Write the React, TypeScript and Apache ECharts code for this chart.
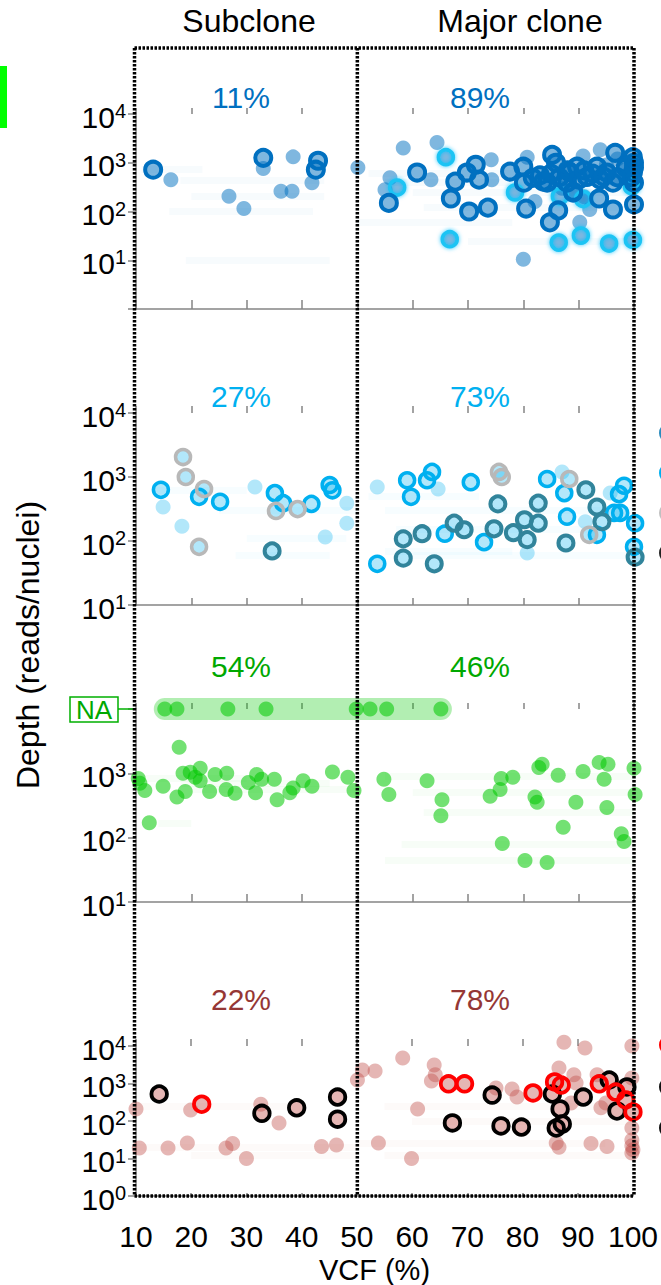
import React, { useEffect, useRef } from "react";
import * as echarts from "echarts";

const FONT = "'Liberation Sans', Arial, Helvetica, sans-serif";
const AXIS_GREY = "#858585";

// ---- Data: [VCF (%), depth (reads/nuclei), marker kind] ----

// Panel 1 — kind 0 plain, 1 dark-blue ring, 2 cyan ring
const panel1Points: [number, number, number][] = [
  [13.1, 720, 1], [16.3, 450, 0], [26.8, 205, 0], [29.5, 115, 0], [33, 1260, 1], [33, 760, 0],
  [38.4, 1320, 0], [36.2, 260, 0], [38.2, 260, 0], [42.9, 1100, 1], [42.5, 720, 1], [41.8, 390, 0],
  [50.1, 800, 0], [58.3, 2000, 0], [64.4, 2600, 0], [66, 1300, 2], [55.9, 490, 0], [55, 280, 0],
  [57.2, 310, 2], [55.7, 150, 1], [60.8, 630, 1], [63.3, 450, 0], [67.7, 410, 1], [66.9, 185, 1],
  [69.8, 630, 1], [71.4, 910, 1], [72, 450, 1], [74.2, 1150, 0], [74.3, 450, 0], [70.2, 100, 1],
  [73.6, 120, 1], [66.7, 27, 2], [77.6, 660, 1], [80, 830, 1], [80.7, 1300, 0], [80.1, 390, 1],
  [78.5, 245, 2], [80.5, 115, 1], [80, 10.5, 0], [82.1, 160, 0], [85.2, 1450, 1], [85.9, 1000, 1],
  [83.6, 410, 1], [86.3, 105, 1], [84.8, 60, 1], [86.4, 23, 2], [90.2, 60, 0], [90.4, 32, 2],
  [95.5, 22, 2], [99.8, 26, 2], [96.6, 1600, 1], [100, 1000, 1], [100, 140, 1], [96.2, 110, 1],
  [93.7, 185, 1], [89, 245, 1], [92, 110, 0], [93.9, 1850, 0], [90.8, 1380, 0], [81.7, 490, 1],
  [84.3, 390, 1], [88.4, 630, 1], [89.7, 830, 1], [87.9, 390, 1], [89, 255, 1], [91.5, 510, 1],
  [93.3, 830, 1], [93.9, 450, 1], [95.1, 630, 1], [96.2, 390, 1], [99.8, 630, 1], [100, 390, 1],
  [86.6, 205, 2], [90.8, 180, 2], [99.6, 330, 2], [86.5, 500, 1], [88, 700, 1], [90, 450, 1],
  [91, 700, 1], [92.5, 600, 1], [94.5, 520, 1], [97, 500, 1], [98.5, 800, 1], [99.5, 500, 1],
  [85, 600, 1], [83, 550, 1], [100, 800, 1], [99.8, 1300, 1], [98, 700, 0], [97, 1200, 0],
  [95, 900, 0], [87, 300, 0], [91, 200, 0],
];

// Panel 2 — kind 0 plain, 1 cyan ring, 2 teal ring, 3 grey ring
const panel2Points: [number, number, number][] = [
  [14.5, 630, 1], [14.9, 340, 0], [18.5, 2050, 3], [19, 1000, 3], [21.4, 490, 1], [22.3, 650, 3],
  [25.2, 410, 1], [18.3, 170, 0], [21.4, 81, 3], [31.5, 700, 0], [35.1, 560, 1], [36.6, 390, 1],
  [35.3, 295, 3], [39.2, 315, 3], [41.7, 380, 1], [34.6, 70, 2], [45, 750, 1], [45.5, 620, 1],
  [44.2, 115, 0], [48.1, 390, 0], [48.1, 190, 0], [53.6, 700, 0], [53.6, 44, 1], [58.3, 108, 2],
  [58.3, 54, 2], [61.7, 130, 2], [63.9, 44, 2], [59, 890, 1], [59.7, 490, 1], [62.6, 890, 1],
  [63.5, 1200, 1], [64.6, 650, 0], [65.8, 130, 1], [67.5, 190, 2], [69.3, 150, 2], [70.5, 830, 1],
  [72.9, 96, 1], [74.7, 155, 2], [75.4, 380, 2], [75.6, 1200, 3], [76.1, 1000, 3], [78.2, 135, 2],
  [80.2, 215, 2], [80.7, 105, 2], [80.7, 65, 0], [82.7, 390, 2], [82.7, 190, 2], [84.3, 930, 1],
  [87, 1200, 0], [87.4, 560, 1], [88.3, 930, 3], [87.9, 240, 1], [87.7, 93, 2], [91.3, 630, 2],
  [93.3, 340, 2], [94.2, 200, 2], [91.9, 125, 3], [93.3, 125, 1], [91.2, 200, 0], [96.4, 275, 1],
  [97.5, 275, 1], [97.3, 540, 1], [98.2, 730, 1], [95.7, 560, 0], [100.2, 190, 1], [100, 81, 1],
  [100.2, 56, 2],
];

// Panel 3 — depth known
const panel3Points: [number, number][] = [
  [10.4, 830], [10.7, 700], [11.6, 540], [12.4, 170], [14.9, 630], [17.4, 430], [17.8, 2550],
  [18.5, 1000], [18.9, 520], [19.8, 1040], [20.7, 870], [21.6, 1200], [21.6, 770], [23.3, 520],
  [24.3, 960], [26.4, 1000], [26.3, 560], [27.9, 490], [30.3, 720], [31.8, 960], [31.6, 500],
  [32.7, 810], [35, 810], [35.5, 390], [37.8, 500], [38.4, 590], [40.2, 770], [41.8, 630],
  [45.5, 1050], [48.3, 870], [49.4, 540], [54.8, 810], [55.7, 470], [62.6, 770], [65.3, 390],
  [65.1, 220], [74, 440], [75.8, 560], [76, 830], [76.2, 81], [78.1, 870], [80.3, 44], [82.1, 430],
  [82.5, 355], [82.8, 1230], [83.4, 1380], [84.3, 41], [86.3, 930], [87.2, 145], [89.5, 355],
  [90.8, 1070], [93.7, 1480], [95.3, 1380], [94.6, 810], [95.1, 295], [97.7, 115], [98.2, 87],
  [100, 1200], [100.2, 470],
];
// Panel 3 — depth not available (VCF only)
const panel3NA: number[] = [15.2, 17.4, 26.6, 33.5, 49.8, 52.3, 55.3, 65.1];
const NA_LEVEL = 10000;

// Panel 4 — kind 0 plain, 1 red ring, 2 black ring
const panel4Points: [number, number, number][] = [
  [14.2, 525, 2], [10, 210, 0], [10.6, 19, 0], [15.8, 19, 0], [19.3, 26, 0], [19.9, 195, 0],
  [21.9, 280, 1], [26.3, 19, 0], [27.5, 25, 0], [30, 10, 0], [32.6, 280, 0], [32.8, 160, 2],
  [35.9, 89, 0], [39.1, 225, 2], [43.6, 21, 0], [46.5, 435, 2], [46.5, 112, 2], [46.3, 23, 0],
  [50.1, 1240, 0], [51, 2300, 0], [53.3, 2150, 0], [53.9, 26, 0], [58.3, 4800, 0], [61, 210, 0],
  [59.9, 10, 0], [64, 3100, 0], [64.2, 1700, 0], [63.5, 1170, 0], [66.6, 980, 1], [69.5, 980, 1],
  [67.3, 89, 2], [74.5, 490, 2], [75.2, 760, 0], [76.1, 74, 2], [79.8, 69, 2], [78.1, 710, 0],
  [79, 435, 0], [81.9, 560, 1], [85.4, 525, 2], [85.8, 1100, 1], [87, 910, 1], [87.5, 12600, 0],
  [91.3, 8800, 0], [99.8, 10000, 0], [86.8, 210, 2], [86.1, 65, 2], [87.2, 83, 2], [86.6, 2600, 0],
  [89.3, 1700, 0], [89.7, 1030, 0], [88.8, 300, 0], [91, 435, 2], [86.1, 26, 0], [86.6, 20, 0],
  [92.4, 25, 0], [95.3, 21, 0], [93.9, 980, 1], [95.7, 1240, 2], [96.9, 590, 1], [98.9, 810, 2],
  [98.7, 365, 1], [97.1, 185, 2], [100, 175, 1], [93.5, 1700, 0], [94.2, 225, 0], [95.1, 300, 0],
  [99.8, 1400, 0], [99.8, 65, 0], [99.8, 31, 0], [100, 17, 0], [99.8, 14, 0], [99.8, 22, 0],
];

// Faint VCF confidence ranges: [low, high, depth]
const panel1Ranges: [number, number, number][] = [
  [11, 22, 720], [18, 44, 430], [20, 44, 205], [16, 42, 100], [19, 45, 10], [52, 100, 600],
  [55, 100, 400], [60, 100, 250], [62, 100, 120], [70, 100, 25], [50, 78, 60],
];
const panel2Ranges: [number, number, number][] = [
  [13, 30, 620], [25, 50, 300], [30, 48, 110], [28, 45, 60], [52, 72, 500], [55, 100, 300],
  [57, 95, 150], [55, 78, 70], [60, 100, 60],
];
const panel3Ranges: [number, number, number][] = [
  [10, 30, 830], [18, 45, 700], [14, 20, 170], [20, 50, 560], [55, 100, 900], [60, 100, 500],
  [62, 100, 250], [58, 100, 80], [55, 100, 45],
];
const panel4Ranges: [number, number, number][] = [
  [10, 40, 250], [10, 50, 20], [20, 50, 12], [55, 100, 250], [60, 100, 100], [50, 95, 25],
  [55, 100, 12],
];

const columnTitles = ["Subclone", "Major clone"];
const panelPercents: [string, string][] = [
  ["11%", "89%"],
  ["27%", "73%"],
  ["54%", "46%"],
  ["22%", "78%"],
];

// ---- Layout ----
const GRID_LEFT = 136;
const GRID_W = 498;
const X_MIN = 10;
const X_MAX = 100;
const BOX_TOP = 48;
const BOX_BOTTOM = 1196;

const PANELS = [
  { top: 114, height: 195, yMin: 1, pctY: 97, inner: 9, outer: 6 },
  { top: 413, height: 192, yMin: 10, pctY: 396, inner: 7, outer: 7 },
  { top: 709, height: 193, yMin: 10, pctY: 666, inner: 8, outer: 6 },
  { top: 1046, height: 150, yMin: 1, pctY: 999, inner: 3, outer: 7 },
];
const PERCENT_COLORS = ["#0070c0", "#00b0f0", "#00a800", "#953735"];

const xPix = (v: number) => GRID_LEFT + ((v - X_MIN) / (X_MAX - X_MIN)) * GRID_W;

function supLabel(hideMin: number | null, hideMax: boolean) {
  return (v: number) => {
    if (hideMin !== null && v <= hideMin) return "";
    if (hideMax && v >= 10000) return "";
    const e = Math.round(Math.log10(v));
    return `{b|10}{s|${e}}`;
  };
}

const richSup = {
  b: { fontSize: 30, fontFamily: FONT, color: "#000", lineHeight: 32 },
  s: { fontSize: 20, fontFamily: FONT, color: "#000", verticalAlign: "top", lineHeight: 21 },
};

function scatterFilled(i: number, data: number[][], color: string, opacity: number) {
  return {
    type: "scatter",
    xAxisIndex: 2 * i,
    yAxisIndex: i,
    data,
    symbol: "circle",
    symbolSize: 15,
    clip: false,
    silent: true,
    z: 3,
    itemStyle: { color, opacity },
  };
}

function scatterRing(i: number, data: number[][], color: string, size: number, width: number, extra: any = {}) {
  return {
    type: "scatter",
    xAxisIndex: 2 * i,
    yAxisIndex: i,
    data,
    symbol: "circle",
    symbolSize: size,
    clip: false,
    silent: true,
    z: 4,
    itemStyle: { color: "rgba(0,0,0,0)", borderColor: color, borderWidth: width, opacity: 1, ...extra },
  };
}

function rangeBars(i: number, ranges: [number, number, number][], color: string) {
  return {
    type: "lines",
    coordinateSystem: "cartesian2d",
    xAxisIndex: 2 * i,
    yAxisIndex: i,
    silent: true,
    z: 1,
    data: ranges.map(([lo, hi, d]) => ({ coords: [[lo, d], [hi, d]] })),
    lineStyle: { color, width: 7, opacity: 0.03, curveness: 0 },
  };
}

const pick = (pts: [number, number, number][], k: number) =>
  pts.filter((p) => p[2] === k).map((p) => [p[0], p[1]]);
const all = (pts: [number, number, number][]) => pts.map((p) => [p[0], p[1]]);

function buildOption() {
  const grid = PANELS.map((p) => ({ left: GRID_LEFT, width: GRID_W, top: p.top, height: p.height }));

  const xAxis: any[] = [];
  PANELS.forEach((p, i) => {
    const last = i === PANELS.length - 1;
    xAxis.push({
      type: "value",
      gridIndex: i,
      min: X_MIN,
      max: X_MAX,
      interval: 10,
      axisLine: { show: true, onZero: false, lineStyle: { color: AXIS_GREY, width: 1.5 } },
      axisTick: { show: true, inside: true, length: p.inner, lineStyle: { color: AXIS_GREY, width: 1.5 } },
      axisLabel: { show: last, margin: 25, fontSize: 30, fontFamily: FONT, color: "#000" },
      splitLine: { show: false },
      name: last ? "VCF (%)" : "",
      nameLocation: "middle",
      nameGap: 59,
      nameTextStyle: { fontSize: 29, fontFamily: FONT, color: "#000", padding: [0, 20, 0, 0] },
    });
    xAxis.push({
      type: "value",
      gridIndex: i,
      min: X_MIN,
      max: X_MAX,
      interval: 10,
      axisLine: { show: false },
      axisTick: { show: true, inside: false, length: p.outer, lineStyle: { color: AXIS_GREY, width: 1.5 } },
      axisLabel: { show: false },
      splitLine: { show: false },
    });
  });

  const yAxis = PANELS.map((p, i) => ({
    type: "log",
    logBase: 10,
    gridIndex: i,
    min: p.yMin,
    max: 10000,
    axisLine: { show: true, onZero: false, lineStyle: { color: AXIS_GREY, width: 1.5 } },
    axisTick: { show: true, length: 8, lineStyle: { color: AXIS_GREY, width: 1.5 } },
    minorTick: { show: false },
    splitLine: { show: false },
    axisLabel: {
      margin: 10,
      padding: [6, 0, 0, 0],
      formatter: supLabel(i === 0 ? 1 : null, i === 2),
      rich: richSup,
    },
  }));

  const naMin = Math.min(...panel3NA);
  const naMax = Math.max(...panel3NA);

  const series: any[] = [
    // Panel 1
    rangeBars(0, panel1Ranges, "#0070c0"),
    scatterFilled(0, all(panel1Points), "#0070c0", 0.5),
    scatterRing(0, pick(panel1Points, 2), "#1cc4f4", 15, 3.5, { shadowBlur: 4, shadowColor: "rgba(0,190,255,0.8)" }),
    scatterRing(0, pick(panel1Points, 1), "#0070c0", 16, 4),
    // Panel 2
    rangeBars(1, panel2Ranges, "#00b0f0"),
    scatterFilled(1, all(panel2Points), "#00b0f0", 0.3),
    scatterRing(1, pick(panel2Points, 1), "#00b0f0", 15, 3.5),
    scatterRing(1, pick(panel2Points, 2), "#31849b", 15, 4),
    scatterRing(1, pick(panel2Points, 3), "#b8b8b8", 15, 3.5),
    // Panel 3
    rangeBars(2, panel3Ranges, "#00c000"),
    {
      type: "line",
      xAxisIndex: 4,
      yAxisIndex: 2,
      data: [
        [naMin, NA_LEVEL],
        [naMax, NA_LEVEL],
      ],
      symbol: "none",
      clip: false,
      silent: true,
      z: 2,
      lineStyle: { color: "rgba(0,200,0,0.3)", width: 22, cap: "round" },
    },
    scatterFilled(2, panel3Points, "#00c800", 0.55),
    scatterFilled(2, panel3NA.map((v) => [v, NA_LEVEL]), "#00c800", 0.55),
    // Panel 4
    rangeBars(3, panel4Ranges, "#c0504d"),
    scatterFilled(3, all(panel4Points), "#c0504d", 0.42),
    scatterRing(3, pick(panel4Points, 2), "#000000", 15.5, 3.8),
    scatterRing(3, pick(panel4Points, 1), "#ff0000", 15.5, 3.8),
  ];

  const dotted = { stroke: "#000", lineWidth: 3.5, lineDash: [2.5, 1.5] };
  const graphic: any[] = [
    { type: "rect", z: 50, shape: { x: 0, y: 66, width: 7, height: 62 }, style: { fill: "#00ff00" } },
    // column titles
    {
      type: "text", z: 50, x: 249, y: 21,
      style: { text: columnTitles[0], fontSize: 32, fontFamily: FONT, fill: "#000", align: "center", verticalAlign: "middle" },
    },
    {
      type: "text", z: 50, x: 520, y: 21,
      style: { text: columnTitles[1], fontSize: 32, fontFamily: FONT, fill: "#000", align: "center", verticalAlign: "middle" },
    },
    // y axis title
    {
      type: "text", z: 50, x: 28, y: 645, rotation: Math.PI / 2,
      style: { text: "Depth (reads/nuclei)", fontSize: 32, fontFamily: FONT, fill: "#000", align: "center", verticalAlign: "middle" },
    },
    // dotted clone boxes
    { type: "line", z: 60, shape: { x1: xPix(X_MIN) - 1.5, y1: BOX_TOP, x2: xPix(X_MAX), y2: BOX_TOP }, style: dotted },
    { type: "line", z: 60, shape: { x1: xPix(X_MIN) - 1.5, y1: BOX_BOTTOM, x2: xPix(X_MAX), y2: BOX_BOTTOM }, style: dotted },
    { type: "line", z: 60, shape: { x1: xPix(X_MIN) - 1.5, y1: BOX_TOP, x2: xPix(X_MIN) - 1.5, y2: BOX_BOTTOM }, style: dotted },
    { type: "line", z: 60, shape: { x1: xPix(50), y1: BOX_TOP, x2: xPix(50), y2: BOX_BOTTOM }, style: dotted },
    { type: "line", z: 60, shape: { x1: xPix(X_MAX), y1: BOX_TOP, x2: xPix(X_MAX), y2: BOX_BOTTOM }, style: dotted },
    // NA label for panel 3
    { type: "line", z: 55, shape: { x1: 118, y1: PANELS[2].top, x2: GRID_LEFT, y2: PANELS[2].top }, style: { stroke: "#00b000", lineWidth: 1.5 } },
    { type: "rect", z: 55, shape: { x: 70, y: PANELS[2].top - 12, width: 48, height: 25 }, style: { fill: "#fff", stroke: "#00b000", lineWidth: 1.5 } },
    {
      type: "text", z: 56, x: 94, y: PANELS[2].top + 1,
      style: { text: "NA", fontSize: 26, fontFamily: FONT, fill: "#00a800", align: "center", verticalAlign: "middle" },
    },
  ];

  PANELS.forEach((p, i) => {
    [241, 480].forEach((x, j) => {
      graphic.push({
        type: "text", z: 50, x, y: p.pctY,
        style: { text: panelPercents[i][j], fontSize: 30, fontFamily: FONT, fill: PERCENT_COLORS[i], align: "center", verticalAlign: "middle" },
      });
    });
  });

  // legend keys running off the right edge
  const legendKeys: [number, string][] = [
    [433, "#2b8cbe"], [473, "#00b0f0"], [513, "#c0c0c0"], [553, "#222222"],
    [1045, "#ff0000"], [1087, "#111111"], [1128, "#111111"],
  ];
  legendKeys.forEach(([cy, c]) => {
    graphic.push({ type: "circle", z: 50, shape: { cx: 668.5, cy, r: 8 }, style: { fill: "none", stroke: c, lineWidth: 3 } });
  });

  return {
    animation: false,
    backgroundColor: "#ffffff",
    textStyle: { fontFamily: FONT },
    grid,
    xAxis,
    yAxis,
    series,
    graphic,
  };
}

export default function App() {
  const ref = useRef<HTMLDivElement>(null);
  useEffect(() => {
    if (!ref.current) return;
    const chart = echarts.init(ref.current, null, { renderer: "svg" });
    chart.setOption(buildOption() as any);
    return () => chart.dispose();
  }, []);
  return <div ref={ref} style={{ position: "absolute", left: 0, top: 0, width: 661, height: 1285 }} />;
}
